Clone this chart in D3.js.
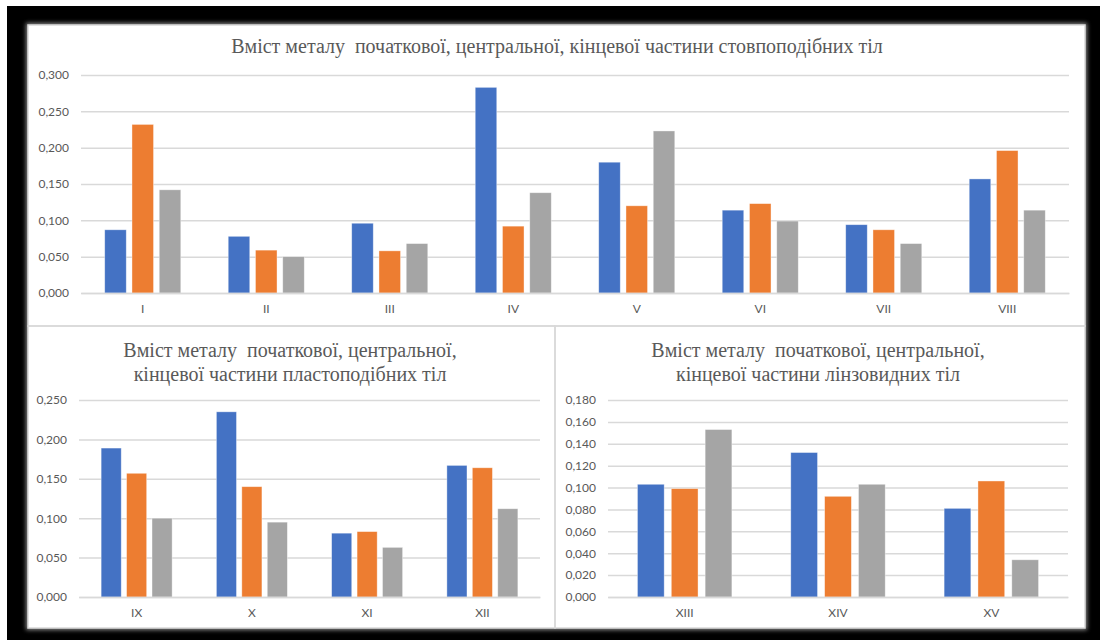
<!DOCTYPE html>
<html>
<head>
<meta charset="utf-8">
<script src="https://cdn.jsdelivr.net/npm/d3@7"></script>
<style>
  body { margin: 0; background: #fff; }
  svg { display: block; }
</style>
</head>
<body>
<div id="container"></div>
<script>
/* DATA */
const seriesColors = ["#4472C4", "#ED7D31", "#A5A5A5"];

// стовпоподібні тіла
const columnCats = ["I", "II", "III", "IV", "V", "VI", "VII", "VIII"];
const columnStart = [0.087, 0.078, 0.096, 0.283, 0.180, 0.114, 0.094, 0.157];
const columnCentre = [0.232, 0.059, 0.058, 0.092, 0.120, 0.123, 0.087, 0.196];
const columnEnd = [0.142, 0.050, 0.068, 0.138, 0.223, 0.099, 0.068, 0.114];
const columnTicks = [0, 0.05, 0.10, 0.15, 0.20, 0.25, 0.30];

// пластоподібні тіла
const plateCats = ["IX", "X", "XI", "XII"];
const plateStart = [0.189, 0.235, 0.081, 0.167];
const plateCentre = [0.157, 0.140, 0.083, 0.164];
const plateEnd = [0.100, 0.095, 0.063, 0.112];
const plateTicks = [0, 0.05, 0.10, 0.15, 0.20, 0.25];

// лінзовидні тіла
const lensCats = ["XIII", "XIV", "XV"];
const lensStart = [0.103, 0.132, 0.081];
const lensCentre = [0.099, 0.092, 0.106];
const lensEnd = [0.153, 0.103, 0.034];
const lensTicks = [0, 0.02, 0.04, 0.06, 0.08, 0.10, 0.12, 0.14, 0.16, 0.18];

/* CONSTANTS */
const width = 1100;
const height = 643;
const textColor = "#595959";
const gridColor = "#D9D9D9";

const locale = d3.formatLocale({ decimal: ",", thousands: " ", grouping: [3], currency: ["", ""] });
const fmt = locale.format(".3f");

const svg = d3.select("#container")
  .append("svg")
  .attr("width", width)
  .attr("height", height);

// glow around the white panel
const defs = svg.append("defs");
defs.append("filter")
  .attr("id", "glow")
  .attr("x", "-5%").attr("y", "-5%").attr("width", "110%").attr("height", "110%")
  .append("feGaussianBlur")
  .attr("stdDeviation", 2);

svg.append("rect")
  .attr("x", 7).attr("y", 6)
  .attr("width", width - 7).attr("height", 634)
  .attr("fill", "#000");

svg.append("rect")
  .attr("x", 26).attr("y", 23)
  .attr("width", 1061).attr("height", 607)
  .attr("fill", "#8a8a8a")
  .attr("filter", "url(#glow)");

svg.append("rect")
  .attr("x", 28).attr("y", 25)
  .attr("width", 1057).attr("height", 603)
  .attr("fill", "#fff");

/* chart areas */
function drawChart(cfg) {
  const g = svg.append("g");

  // chart area border
  g.append("rect")
    .attr("x", cfg.box[0]).attr("y", cfg.box[1])
    .attr("width", cfg.box[2]).attr("height", cfg.box[3])
    .attr("fill", "none")
    .attr("stroke", gridColor)
    .attr("stroke-width", 1.5);

  // title
  const title = g.append("text")
    .attr("text-anchor", "middle")
    .attr("fill", textColor)
    .style("white-space", "pre")
    .style("font-family", "'Liberation Serif', 'Times New Roman', serif")
    .style("font-size", "20px");
  cfg.title.forEach((line, i) => {
    title.append("tspan")
      .attr("x", cfg.titleX)
      .attr("y", cfg.titleY + i * 23.5)
      .text(line);
  });

  const yScale = d3.scaleLinear()
    .domain([0, cfg.yMax])
    .range([cfg.plot.bottom, cfg.plot.top]);

  const x0 = d3.scaleBand()
    .domain(cfg.cats)
    .range([cfg.plot.left, cfg.plot.right]);

  const x1 = d3.scaleBand()
    .domain([0, 1, 2])
    .range([0, x0.bandwidth()])
    .paddingInner(0.21)
    .paddingOuter(0.87);

  // gridlines
  const yAxis = d3.axisLeft(yScale)
    .tickValues(cfg.ticks)
    .tickFormat(fmt)
    .tickSize(-(cfg.plot.right - cfg.plot.left))
    .tickPadding(12);

  const ya = g.append("g")
    .attr("transform", `translate(${cfg.plot.left},0)`)
    .call(yAxis);
  ya.select(".domain").remove();
  ya.selectAll(".tick line")
    .attr("stroke", gridColor)
    .attr("stroke-width", 1.5);
  ya.selectAll(".tick text")
    .attr("fill", textColor)
    .style("font-family", "Lato, 'Liberation Sans', sans-serif")
    .style("font-size", "12px");

  // bars
  const series = [cfg.start, cfg.centre, cfg.end];
  const rows = [];
  cfg.cats.forEach((c, i) => {
    series.forEach((s, k) => rows.push({ cat: c, k: k, v: s[i] }));
  });

  g.selectAll(".bar")
    .data(rows)
    .join("rect")
    .attr("class", "bar")
    .attr("x", d => x0(d.cat) + x1(d.k))
    .attr("y", d => yScale(d.v))
    .attr("width", x1.bandwidth())
    .attr("height", d => yScale(0) - yScale(d.v))
    .attr("fill", d => seriesColors[d.k])
    .attr("stroke", "#fff")
    .attr("stroke-opacity", 0.5)
    .attr("stroke-width", 0.75);

  // category axis
  const xAxis = d3.axisBottom(x0).tickSize(0).tickPadding(11);
  const xa = g.append("g")
    .attr("transform", `translate(0,${cfg.plot.bottom})`)
    .call(xAxis);
  xa.select(".domain")
    .attr("stroke", gridColor)
    .attr("stroke-width", 1.5);
  xa.selectAll(".tick text")
    .attr("fill", textColor)
    .style("font-family", "Lato, 'Liberation Sans', sans-serif")
    .style("font-size", "12px");
}

drawChart({
  box: [28, 25, 1057, 301],
  title: ["Вміст металу  початкової, центральної, кінцевої частини стовпоподібних тіл"],
  titleX: 557, titleY: 53,
  plot: { left: 81, right: 1069, top: 75, bottom: 293 },
  yMax: 0.30, ticks: columnTicks,
  cats: columnCats, start: columnStart, centre: columnCentre, end: columnEnd
});

drawChart({
  box: [28, 326, 527, 302],
  title: ["Вміст металу  початкової, центральної,", "кінцевої частини пластоподібних тіл"],
  titleX: 290, titleY: 357,
  plot: { left: 79, right: 540, top: 400, bottom: 597 },
  yMax: 0.25, ticks: plateTicks,
  cats: plateCats, start: plateStart, centre: plateCentre, end: plateEnd
});

drawChart({
  box: [555, 326, 530, 302],
  title: ["Вміст металу  початкової, центральної,", "кінцевої частини лінзовидних тіл"],
  titleX: 818, titleY: 357,
  plot: { left: 608, right: 1068, top: 400, bottom: 597 },
  yMax: 0.18, ticks: lensTicks,
  cats: lensCats, start: lensStart, centre: lensCentre, end: lensEnd
});
</script>
</body>
</html>
